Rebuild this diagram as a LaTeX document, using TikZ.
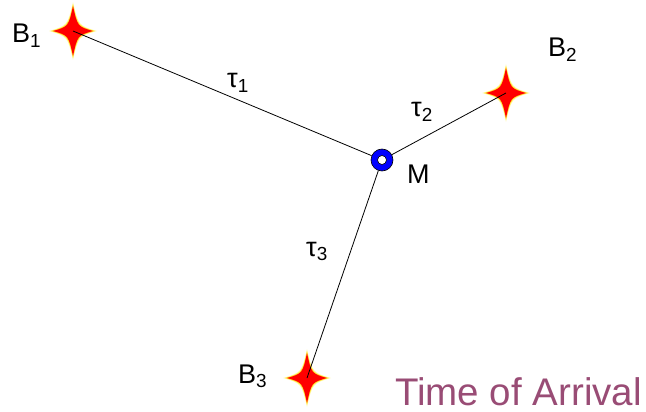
\documentclass[tikz,border=0pt]{standalone}
\usepackage{fontspec}
\setmainfont{Liberation Sans}
\definecolor{plum}{RGB}{153,76,117}
\definecolor{glow}{RGB}{255,250,170}
\definecolor{glow2}{RGB}{255,225,40}
\begin{document}
\begin{tikzpicture}[x=1pt,y=-1pt,
  fourstar/.pic={
    \fill[glow] (24,0) .. controls (5.5,5.5) .. (0,29) .. controls (-5.5,5.5) .. (-24,0) .. controls (-5.5,-5.5) .. (0,-29) .. controls (5.5,-5.5) .. cycle;
    \fill[glow2] (22,0) .. controls (5,5) .. (0,27) .. controls (-5,5) .. (-22,0) .. controls (-5,-5) .. (0,-27) .. controls (5,-5) .. cycle;
    \fill[red] (20,0) .. controls (4.5,4.5) .. (0,25) .. controls (-4.5,4.5) .. (-20,0) .. controls (-4.5,-4.5) .. (0,-25) .. controls (4.5,-4.5) .. cycle;
  },
  lbl/.style={anchor=base west,inner sep=0pt,font=\fontsize{27}{27}\selectfont},
  tau/.style={anchor=base west,inner sep=0pt,font=\fontsize{27}{27}\selectfont},
  conn/.style={line width=0.8pt,black}]
\useasboundingbox (0,0) rectangle (646,412);
\coordinate (b1) at (73,31);
\coordinate (b2) at (506,93);
\coordinate (b3) at (307,378);
\path (b1) pic {fourstar};
\path (b2) pic {fourstar};
\path (b3) pic {fourstar};
\node[circle,draw=black,fill=blue,line width=0.6pt,minimum size=22pt,inner sep=0pt] (m) at (382,160) {};
\node[circle,draw=black,fill=white,line width=0.6pt,minimum size=9pt,inner sep=0pt] (mh) at (m.center) {};
\draw[conn] (b1) -- (m);
\draw[conn] (b2) -- (m);
\draw[conn] (b3) -- (m);
\node[lbl] (lb1) at (12,43) {B\textsubscript{1}};
\node[lbl] (lb2) at (548,57) {B\textsubscript{2}};
\node[lbl] (lb3) at (238,383) {B\textsubscript{3}};
\node[lbl] (lm) at (407,183) {M};
\node[tau] (t1) at (227,88) {τ\textsubscript{1}};
\node[tau] (t2) at (411,117) {τ\textsubscript{2}};
\node[tau] (t3) at (306,256) {τ\textsubscript{3}};
\node[anchor=base west,inner sep=0pt,text=plum,font=\fontsize{38.5}{38.5}\selectfont] (toa) at (395,405) {Time of Arrival};
\end{tikzpicture}
\end{document}
